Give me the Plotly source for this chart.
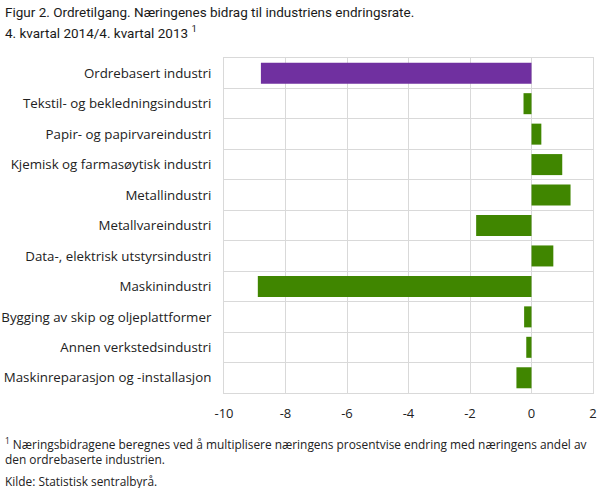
import plotly.graph_objects as go

categories = [
    "Ordrebasert industri",
    "Tekstil- og bekledningsindustri",
    "Papir- og papirvareindustri",
    "Kjemisk og farmasøytisk industri",
    "Metallindustri",
    "Metallvareindustri",
    "Data-, elektrisk utstyrsindustri",
    "Maskinindustri",
    "Bygging av skip og oljeplattformer",
    "Annen verkstedsindustri",
    "Maskinreparasjon og -installasjon",
]
values = [-8.8, -0.26, 0.32, 1.0, 1.27, -1.8, 0.71, -8.9, -0.24, -0.17, -0.49]
bar_colors = ["#7030a0"] + ["#408600"] * 10
x_ticks = [-10, -8, -6, -4, -2, 0, 2]

font_family = "Open Sans, DejaVu Sans, sans-serif"
title_family = "Roboto, Open Sans, sans-serif"
text_color = "#222222"

fig = go.Figure(go.Bar(
    x=values, y=categories, orientation="h",
    marker=dict(color=bar_colors, line=dict(width=0)),
    hoverinfo="x+y",
))

fig.update_layout(
    width=609, height=488,
    margin=dict(l=224, r=16, t=58, b=95),
    paper_bgcolor="white", plot_bgcolor="white",
    bargap=0.31,
    showlegend=False,
    font=dict(family=font_family, size=12, color=text_color),
    xaxis=dict(
        range=[-10, 2], tickvals=x_ticks, ticktext=[str(v) for v in x_ticks],
        showgrid=True, gridcolor="#d9d9d9", gridwidth=1,
        zeroline=False, showline=True, linecolor="#d9d9d9", mirror=True,
        ticks="", ticklabelstandoff=8, tickfont=dict(size=13, color=text_color),
        automargin=False, fixedrange=True,
    ),
    yaxis=dict(
        autorange="reversed", type="category",
        showgrid=True, gridcolor="#d9d9d9", gridwidth=1, tickson="boundaries",
        showline=True, linecolor="#d9d9d9", mirror=True,
        ticks="", ticklabelstandoff=9,
        tickfont=dict(size=13.3, color=text_color),
        automargin=False, fixedrange=True,
    ),
)

x0 = -221 / 369
fig.add_annotation(
    text="Figur 2. Ordretilgang. Næringenes bidrag til industriens endringsrate.",
    xref="paper", yref="paper", x=x0, y=1, yshift=58 - 2,
    xanchor="left", yanchor="top", align="left", showarrow=False,
    font=dict(size=13.5, color="#1a1a1a", family=title_family),
)
fig.add_annotation(
    text="4. kvartal 2014/4. kvartal 2013 <sup>1</sup>",
    xref="paper", yref="paper", x=x0, y=1, yshift=58 - 21,
    xanchor="left", yanchor="top", align="left", showarrow=False,
    font=dict(size=13.5, color="#1a1a1a", family=title_family),
)
fig.add_annotation(
    text="<sup>1</sup> Næringsbidragene beregnes ved å multiplisere næringens prosentvise endring med næringens andel av<br>den ordrebaserte industrien.",
    xref="paper", yref="paper", x=x0, y=0, yshift=-40,
    xanchor="left", yanchor="top", align="left", showarrow=False,
    font=dict(size=11.9, color=text_color, family=font_family),
)
fig.add_annotation(
    text="Kilde: Statistisk sentralbyrå.",
    xref="paper", yref="paper", x=x0, y=0, yshift=-78,
    xanchor="left", yanchor="top", align="left", showarrow=False,
    font=dict(size=11.9, color=text_color, family=font_family),
)

fig.write_html(
    "out.html",
    config={"displayModeBar": False},
    post_script="document.body.style.margin='0';document.body.style.padding='0';",
)
